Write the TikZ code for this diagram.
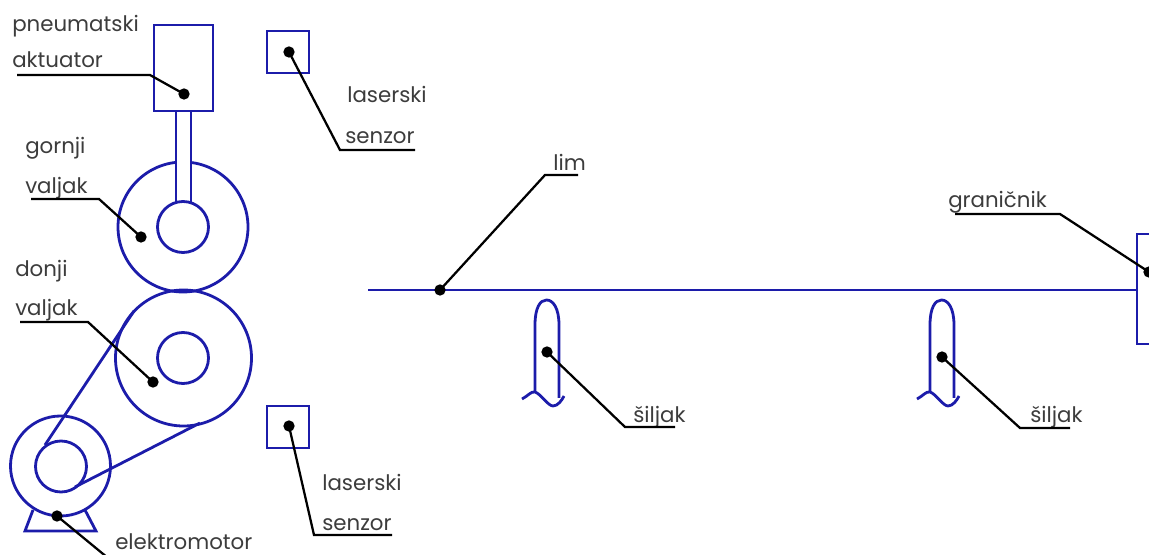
\documentclass[tikz,border=0pt]{standalone}
\usepackage{fontspec}
\setmainfont{Poppins}
\definecolor{partblue}{RGB}{28,28,170}
\definecolor{labelgray}{RGB}{60,60,60}
\tikzset{
  part/.style={draw=partblue,line width=2.1pt},
  leader/.style={draw=black,line width=1.7pt},
  pin/.style={circle,fill=black,inner sep=0pt,minimum size=8.5pt},
  lbl/.style={anchor=base west,inner sep=0pt,text=labelgray,font=\fontsize{16pt}{18pt}\selectfont},
}
\begin{document}
\begin{tikzpicture}[x=0.75pt,y=-0.75pt]
\useasboundingbox (0,0) rectangle (1149,555);
\clip (0,0) rectangle (1149,555);
% upper roller
\draw[part] (183,227) circle[radius=65];
% actuator with rod
\fill[white] (176,111) rectangle (191,203);
\draw[part] (176,111) -- (176,203) (191,111) -- (191,203);
\draw[part] (154,25) rectangle (213,111);
\draw[part,fill=white] (183,227) circle[radius=25.5];
% lower roller
\draw[part] (183.5,358) circle[radius=68];
\draw[part] (183,358) circle[radius=25.5];
% motor
\draw[part] (60.5,466) circle[radius=50];
\draw[part] (61,466.5) circle[radius=25.5];
\draw[part] (33,510) -- (25,531) -- (96,531) -- (85,510);
% belt
\coordinate (beltA) at (45,445);
\coordinate (beltB) at (134,311);
\coordinate (beltC) at (75,487);
\coordinate (beltD) at (200,423);
\draw[part] (beltA) -- (beltB);
\draw[part] (beltC) -- (beltD);
% sensors
\draw[part] (267,31) rectangle (309,73);
\draw[part] (267,406) rectangle (309,448);
% sheet and stop
\coordinate (sheetL) at (368,290);
\coordinate (sheetR) at (1137,290);
\draw[part] (sheetL) -- (sheetR);
\draw[part] (1152,234) -- (1137,234) -- (1137,344) -- (1152,344);
% spikes
\foreach \dx in {0,395}{
  \draw[part,line join=round] (535+\dx,393) -- (535+\dx,325) .. controls (535+\dx,308) and (540+\dx,300) .. (546.5+\dx,300)
     .. controls (553+\dx,300) and (559+\dx,308) .. (559+\dx,325) -- (559+\dx,398);
  \draw[part,line join=round] (522+\dx,399) .. controls (528+\dx,396) and (531+\dx,391) .. (535+\dx,392)
     .. controls (541+\dx,394) and (548+\dx,406) .. (553+\dx,406) .. controls (558+\dx,406) and (562+\dx,400) .. (564+\dx,396);
}
% labels
\node[lbl] (tPneu) at (12,32) {pneumatski};
\node[lbl] (tAkt) at (12,68) {aktuator};
\node[lbl] (tGor) at (25,154) {gornji};
\node[lbl] (tValG) at (25,194) {valjak};
\node[lbl] (tDon) at (15,277) {donji};
\node[lbl] (tValD) at (15,316) {valjak};
\node[lbl] (tLas1) at (347,103) {laserski};
\node[lbl] (tSen1) at (345,144) {senzor};
\node[lbl] (tLas2) at (322,490) {laserski};
\node[lbl] (tSen2) at (322,530) {senzor};
\node[lbl] (tEle) at (115,549) {elektromotor};
\node[lbl] (tLim) at (553,171) {lim};
\node[lbl] (tGra) at (948,208) {graničnik};
\node[lbl] (tSil1) at (633,423) {šiljak};
\node[lbl] (tSil2) at (1030,423) {šiljak};
% pins
\node[pin] (pAkt) at (184,94) {};
\node[pin] (pSen1) at (289,52) {};
\node[pin] (pValG) at (141,237) {};
\node[pin] (pValD) at (153,382) {};
\node[pin] (pMot) at (57,516) {};
\node[pin] (pSen2) at (289,426) {};
\node[pin] (pLim) at (440,290) {};
\node[pin] (pSil1) at (547,352) {};
\node[pin] (pSil2) at (942,357) {};
\node[pin] (pGra) at (1149,272) {};
% leader ends
\coordinate (kAkt) at (150,75);   \coordinate (eAkt) at (17,75);
\coordinate (kSen1) at (340,150); \coordinate (eSen1) at (415,150);
\coordinate (kValG) at (99,199);  \coordinate (eValG) at (31,199);
\coordinate (kValD) at (88,322);  \coordinate (eValD) at (20,322);
\coordinate (eMot) at (108,558);
\coordinate (kSen2) at (314,535); \coordinate (eSen2) at (392,535);
\coordinate (kLim) at (545,175);  \coordinate (eLim) at (578,175);
\coordinate (kSil1) at (625,427); \coordinate (eSil1) at (675,427);
\coordinate (kSil2) at (1020,428);\coordinate (eSil2) at (1070,428);
\coordinate (kGra) at (1060,214); \coordinate (eGra) at (955,214);
% leaders
\draw[leader] (pAkt.center) -- (kAkt) -- (eAkt);
\draw[leader] (pSen1.center) -- (kSen1) -- (eSen1);
\draw[leader] (pValG.center) -- (kValG) -- (eValG);
\draw[leader] (pValD.center) -- (kValD) -- (eValD);
\draw[leader] (pMot.center) -- (eMot);
\draw[leader] (pSen2.center) -- (kSen2) -- (eSen2);
\draw[leader] (pLim.center) -- (kLim) -- (eLim);
\draw[leader] (pSil1.center) -- (kSil1) -- (eSil1);
\draw[leader] (pSil2.center) -- (kSil2) -- (eSil2);
\draw[leader] (pGra.center) -- (kGra) -- (eGra);
\end{tikzpicture}
\end{document}
